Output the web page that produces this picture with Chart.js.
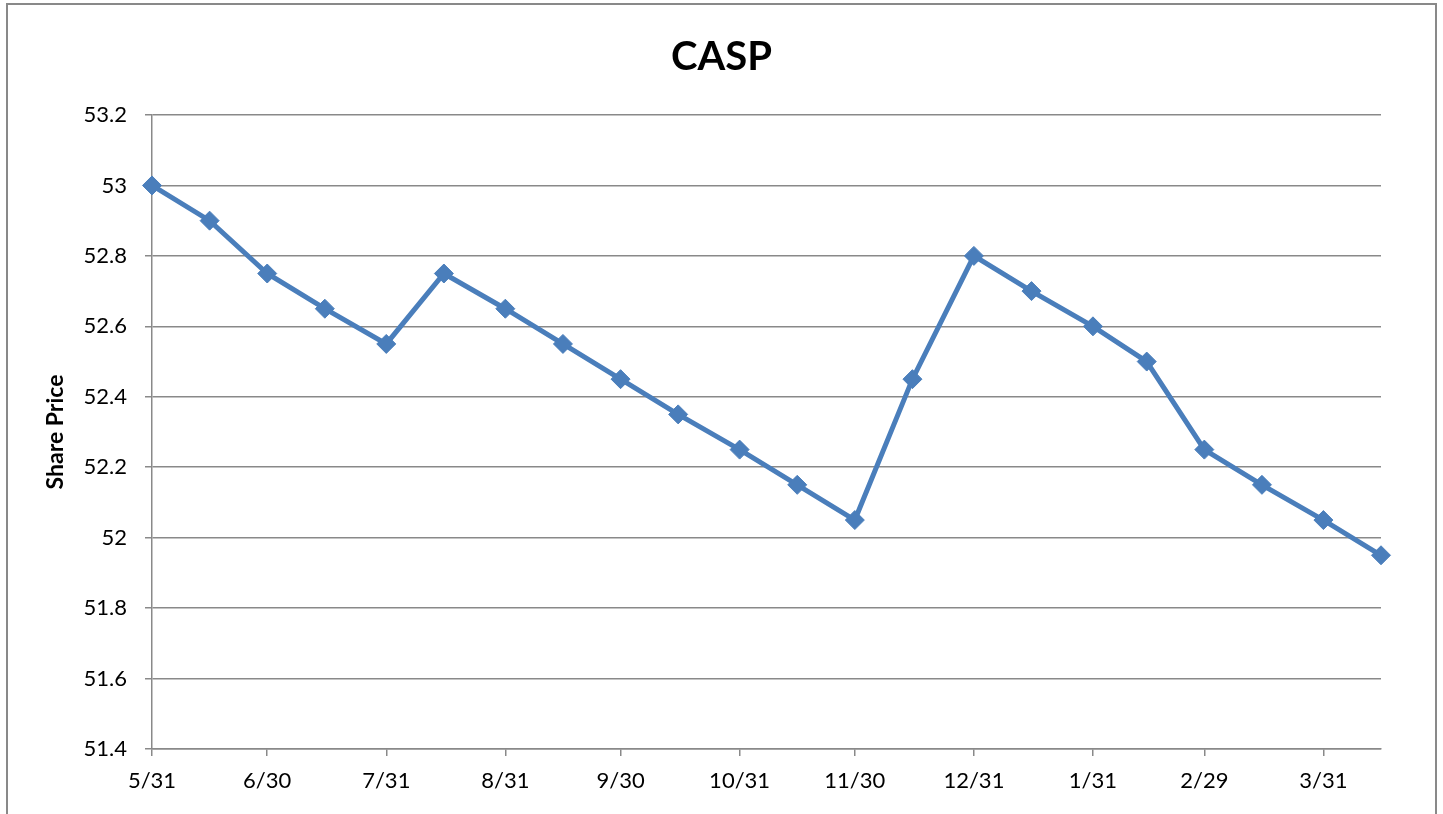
<!DOCTYPE html>
<html>
<head>
<meta charset="utf-8">
<title>CASP</title>
<script src="https://cdn.jsdelivr.net/npm/chart.js@4"></script>
<style>
  body { margin: 0; background: #fff; }
  #wrap { width: 1443px; height: 814px; }
</style>
</head>
<body>
<div id="wrap"><canvas id="caspChart" width="1443" height="814"></canvas></div>
<script>
const dates = ['2011-05-31', '2011-06-15', '2011-06-30', '2011-07-15', '2011-07-31', '2011-08-15',
  '2011-08-31', '2011-09-15', '2011-09-30', '2011-10-15', '2011-10-31', '2011-11-15',
  '2011-11-30', '2011-12-15', '2011-12-31', '2012-01-15', '2012-01-31', '2012-02-14',
  '2012-02-29', '2012-03-15', '2012-03-31', '2012-04-15'];
const sharePrice = [53, 52.9, 52.75, 52.65, 52.55, 52.75, 52.65, 52.55, 52.45, 52.35, 52.25, 52.15,
  52.05, 52.45, 52.8, 52.7, 52.6, 52.5, 52.25, 52.15, 52.05, 51.95];
const tickDates = ['2011-05-31', '2011-06-30', '2011-07-31', '2011-08-31', '2011-09-30', '2011-10-31',
  '2011-11-30', '2011-12-31', '2012-01-31', '2012-02-29', '2012-03-31'];

const start = Date.parse(dates[0]);
const dayOf = d => Math.round((Date.parse(d) - start) / 86400000);
const points = dates.map((d, i) => ({ x: dayOf(d), y: sharePrice[i] }));
const tickDays = tickDates.map(dayOf);

function dayLabel(v) {
  const d = new Date(start + v * 86400000);
  return (d.getUTCMonth() + 1) + '/' + d.getUTCDate();
}

const gray = '#898989';
const blue = '#4A7EBB';
const font = 'Lato, "Open Sans", sans-serif';

// outer frame of the chart object
const frame = {
  id: 'frame',
  beforeDraw(chart) {
    const c = chart.ctx;
    c.save();
    c.strokeStyle = gray;
    c.lineWidth = 2;
    c.beginPath();
    c.moveTo(7, 830);
    c.lineTo(7, 4);
    c.lineTo(1436, 4);
    c.lineTo(1436, 830);
    c.stroke();
    c.restore();
  }
};

new Chart(document.getElementById('caspChart').getContext('2d'), {
  type: 'line',
  data: {
    datasets: [{
      label: 'CASP',
      data: points,
      borderColor: blue,
      backgroundColor: blue,
      borderWidth: 5,
      pointStyle: 'rectRot',
      pointRadius: 9.5,
      pointHoverRadius: 9.5,
      pointBorderWidth: 1,
      pointBackgroundColor: blue,
      pointBorderColor: blue,
      tension: 0,
      clip: false
    }]
  },
  options: {
    responsive: false,
    animation: false,
    layout: { padding: 0 },
    plugins: {
      legend: { display: false },
      tooltip: { enabled: false },
      title: {
        display: true,
        text: 'CASP',
        color: '#000',
        font: { family: font, size: 40, weight: 'bold', lineHeight: 1.2 },
        padding: { top: 33, bottom: 34 }
      }
    },
    scales: {
      x: {
        type: 'linear',
        min: 0,
        max: dayOf(dates[dates.length - 1]),
        afterBuildTicks: axis => { axis.ticks = tickDays.map(v => ({ value: v })); },
        afterFit: axis => { axis.height = 65; },
        ticks: {
          autoSkip: false,
          maxRotation: 0,
          padding: 12,
          color: '#000',
          font: { family: font, size: 22 },
          callback: v => dayLabel(v)
        },
        grid: { drawOnChartArea: false, drawTicks: true, tickLength: 7, color: gray, lineWidth: 1.5 },
        border: { color: gray, width: 1.5 }
      },
      y: {
        min: 51.4,
        max: 53.2,
        afterFit: axis => { axis.width = 152; },
        ticks: {
          stepSize: 0.2,
          padding: 18,
          color: '#000',
          font: { family: font, size: 22 },
          callback: v => String(Number(v.toFixed(1)))
        },
        title: {
          display: true,
          text: 'Share Price',
          color: '#000',
          font: { family: font, size: 23, weight: 'bold', lineHeight: 1.2 },
          padding: { top: 42, bottom: 0 }
        },
        grid: { color: gray, lineWidth: 1.5, tickLength: 7 },
        border: { color: gray, width: 1.5 }
      },
      // empty right-hand box that keeps the plot clear of the frame
      yRight: {
        position: 'right',
        min: 51.4,
        max: 53.2,
        afterFit: axis => { axis.width = 62; },
        ticks: { display: false },
        grid: { drawOnChartArea: false, drawTicks: false },
        border: { display: false }
      }
    }
  },
  plugins: [frame]
});
</script>
</body>
</html>
